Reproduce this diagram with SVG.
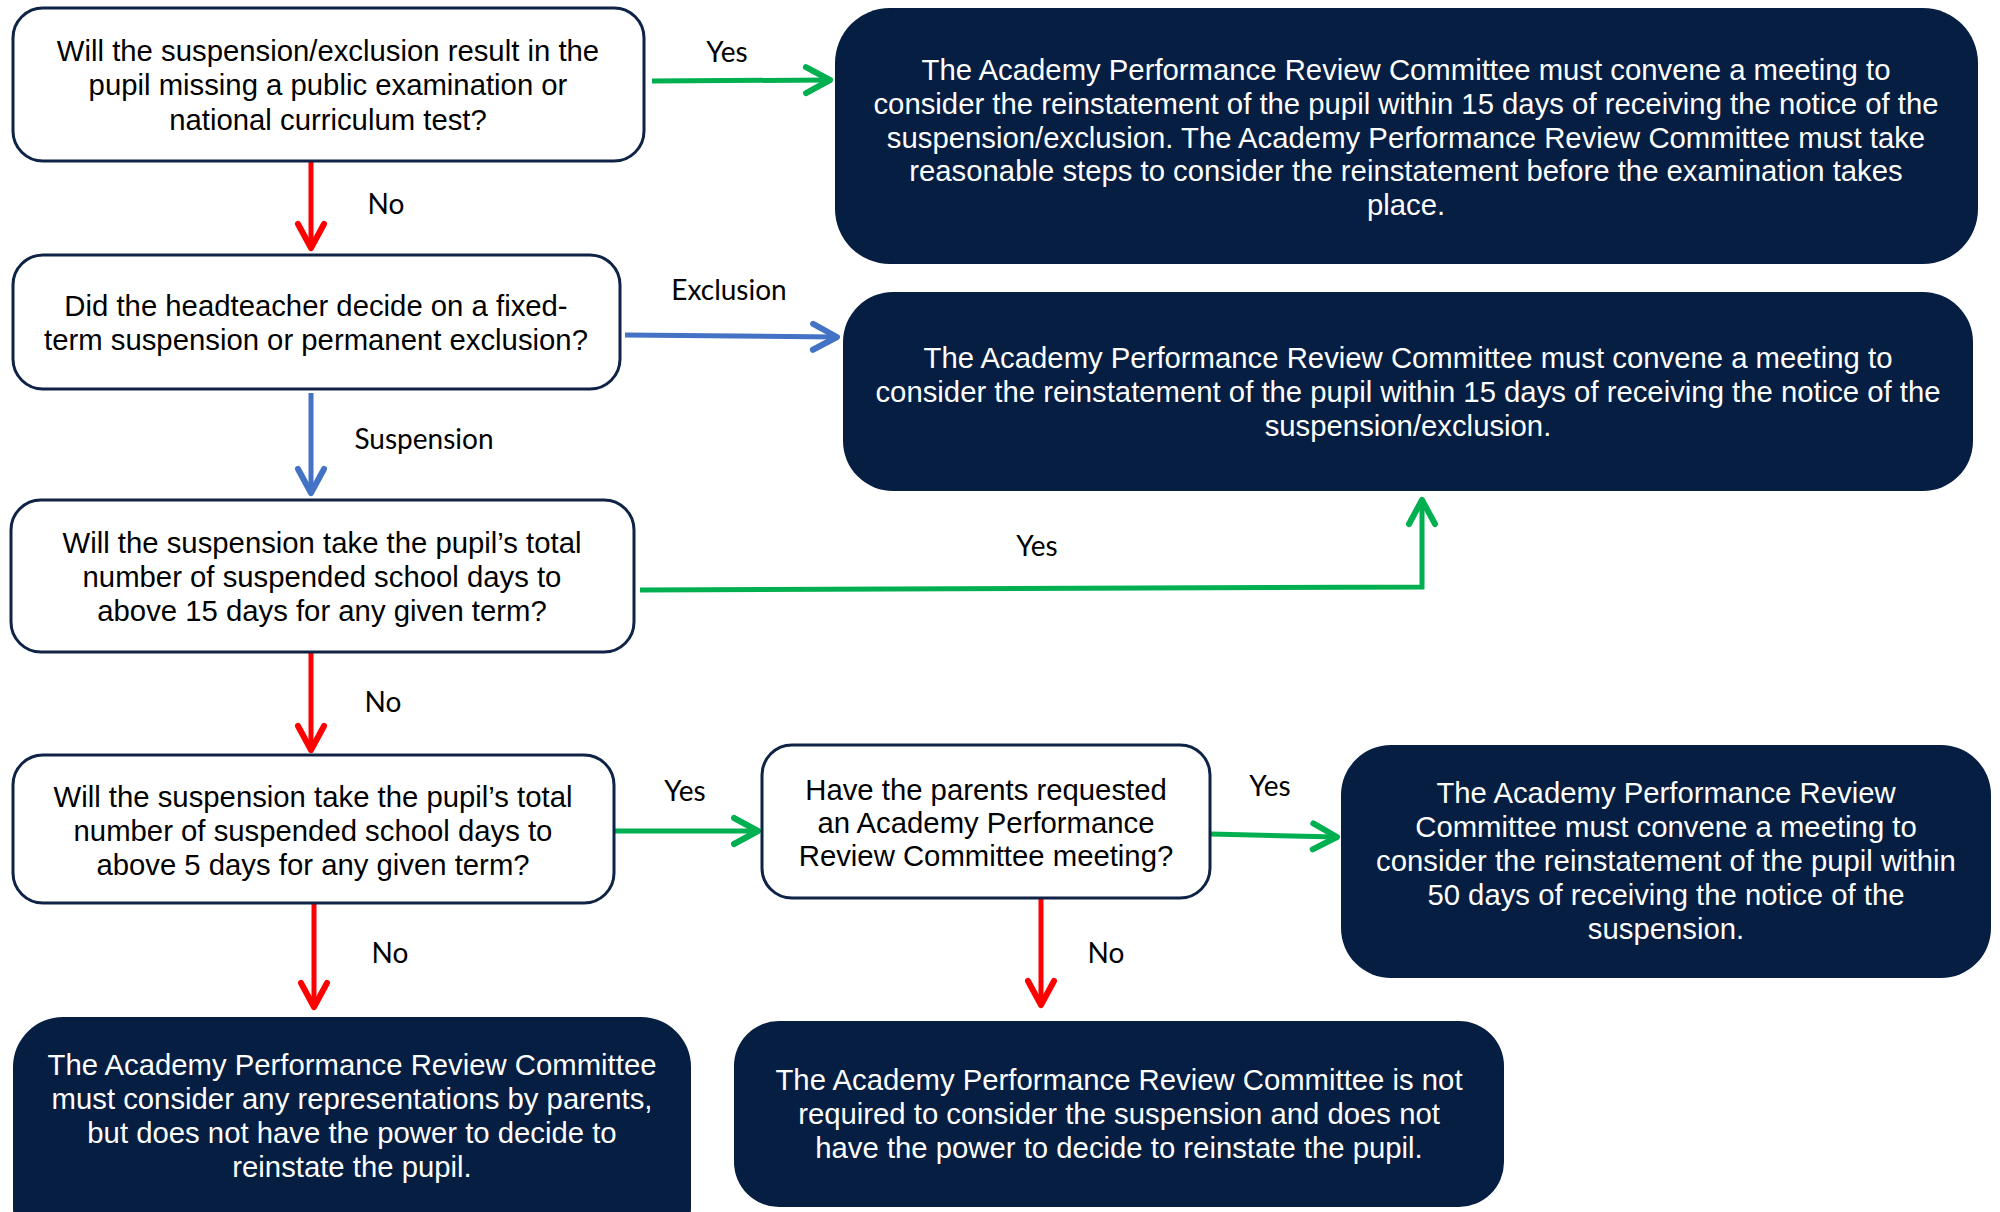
<svg xmlns="http://www.w3.org/2000/svg" width="2000" height="1212" viewBox="0 0 2000 1212">
<defs>
<style>
.q{fill:#fff;stroke:#0E2345;stroke-width:3}
.d{fill:#051E42;stroke:none}
.qt{font-family:"Liberation Sans",Arial,sans-serif;font-size:29.3px;fill:#000;text-anchor:middle}
.dt{font-family:"Liberation Sans",Arial,sans-serif;font-size:29.3px;fill:#fff;text-anchor:middle}
.lb{font-family:Lato,"Open Sans",sans-serif;font-size:28px;fill:#000;text-anchor:middle}
.g{stroke:#00B050;stroke-width:5;fill:none;marker-end:url(#mg)}
.r{stroke:#FF0000;stroke-width:5;fill:none;marker-end:url(#mr)}
.b{stroke:#4472C4;stroke-width:5;fill:none;marker-end:url(#mb)}
</style>
<marker id="mg" markerUnits="userSpaceOnUse" viewBox="-30 -18 34 36" refX="0" refY="0" markerWidth="34" markerHeight="36" orient="auto" overflow="visible"><path d="M-24-13L0 0L-24 13" fill="none" stroke="#00B050" stroke-width="6" stroke-linecap="round" stroke-linejoin="round"/></marker>
<marker id="mr" markerUnits="userSpaceOnUse" viewBox="-30 -18 34 36" refX="0" refY="0" markerWidth="34" markerHeight="36" orient="auto" overflow="visible"><path d="M-24-13L0 0L-24 13" fill="none" stroke="#FF0000" stroke-width="6" stroke-linecap="round" stroke-linejoin="round"/></marker>
<marker id="mb" markerUnits="userSpaceOnUse" viewBox="-30 -18 34 36" refX="0" refY="0" markerWidth="34" markerHeight="36" orient="auto" overflow="visible"><path d="M-24-13L0 0L-24 13" fill="none" stroke="#4472C4" stroke-width="6" stroke-linecap="round" stroke-linejoin="round"/></marker>
</defs>
<rect width="2000" height="1212" fill="#fff"/>

<g id="connectors">
<path class="g" d="M652 81L830 80"/>
<path class="r" d="M311 162L311 248"/>
<path class="b" d="M625 335L837 337"/>
<path class="b" d="M311 393L311 493"/>
<path class="g" d="M640 590L1422 587L1422 500"/>
<path class="r" d="M311 653L311 750"/>
<path class="g" d="M614 831L758 831"/>
<path class="g" d="M1210 834L1337 837"/>
<path class="r" d="M314 904L314 1007"/>
<path class="r" d="M1041 899L1041 1005"/>
<text class="lb" x="727" y="62">Yes</text>
<text class="lb" x="386" y="214">No</text>
<text class="lb" x="729" y="300">Exclusion</text>
<text class="lb" x="424" y="449">Suspension</text>
<text class="lb" x="1037" y="556">Yes</text>
<text class="lb" x="383" y="712">No</text>
<text class="lb" x="685" y="801">Yes</text>
<text class="lb" x="1270" y="796">Yes</text>
<text class="lb" x="390" y="963">No</text>
<text class="lb" x="1106" y="963">No</text>
</g>

<g id="q1">
<rect class="q" x="13" y="8" width="631" height="153" rx="30"/>
<text class="qt"><tspan x="328" y="61">Will the suspension/exclusion result in the</tspan><tspan x="328" y="95">pupil missing a public examination or</tspan><tspan x="328" y="130">national curriculum test?</tspan></text>
</g>

<g id="o1">
<rect class="d" x="835" y="8" width="1143" height="256" rx="55"/>
<text class="dt"><tspan x="1406" y="80">The Academy Performance Review Committee must convene a meeting to</tspan><tspan x="1406" y="114">consider the reinstatement of the pupil within 15 days of receiving the notice of the</tspan><tspan x="1406" y="148">suspension/exclusion. The Academy Performance Review Committee must take</tspan><tspan x="1406" y="181">reasonable steps to consider the reinstatement before the examination takes</tspan><tspan x="1406" y="215">place.</tspan></text>
</g>

<g id="q2">
<rect class="q" x="13" y="255" width="607" height="134" rx="30"/>
<text class="qt"><tspan x="316" y="316">Did the headteacher decide on a fixed-</tspan><tspan x="316" y="350">term suspension or permanent exclusion?</tspan></text>
</g>

<g id="o2">
<rect class="d" x="843" y="292" width="1130" height="199" rx="50"/>
<text class="dt"><tspan x="1408" y="368">The Academy Performance Review Committee must convene a meeting to</tspan><tspan x="1408" y="402">consider the reinstatement of the pupil within 15 days of receiving the notice of the</tspan><tspan x="1408" y="436">suspension/exclusion.</tspan></text>
</g>

<g id="q3">
<rect class="q" x="11" y="500" width="623" height="152" rx="30"/>
<text class="qt"><tspan x="322" y="553">Will the suspension take the pupil’s total</tspan><tspan x="322" y="587">number of suspended school days to</tspan><tspan x="322" y="621">above 15 days for any given term?</tspan></text>
</g>

<g id="q4">
<rect class="q" x="13" y="755" width="601" height="148" rx="30"/>
<text class="qt"><tspan x="313" y="807">Will the suspension take the pupil’s total</tspan><tspan x="313" y="841">number of suspended school days to</tspan><tspan x="313" y="875">above 5 days for any given term?</tspan></text>
</g>

<g id="q5">
<rect class="q" x="762" y="745" width="448" height="153" rx="30"/>
<text class="qt"><tspan x="986" y="800">Have the parents requested</tspan><tspan x="986" y="833">an Academy Performance</tspan><tspan x="986" y="866">Review Committee meeting?</tspan></text>
</g>

<g id="o3">
<rect class="d" x="1341" y="745" width="650" height="233" rx="50"/>
<text class="dt"><tspan x="1666" y="803">The Academy Performance Review</tspan><tspan x="1666" y="837">Committee must convene a meeting to</tspan><tspan x="1666" y="871">consider the reinstatement of the pupil within</tspan><tspan x="1666" y="905">50 days of receiving the notice of the</tspan><tspan x="1666" y="939">suspension.</tspan></text>
</g>

<g id="o4">
<rect class="d" x="13" y="1017" width="678" height="240" rx="50"/>
<text class="dt"><tspan x="352" y="1075">The Academy Performance Review Committee</tspan><tspan x="352" y="1109">must consider any representations by parents,</tspan><tspan x="352" y="1143">but does not have the power to decide to</tspan><tspan x="352" y="1177">reinstate the pupil.</tspan></text>
</g>

<g id="o5">
<rect class="d" x="734" y="1021" width="770" height="186" rx="45"/>
<text class="dt"><tspan x="1119" y="1090">The Academy Performance Review Committee is not</tspan><tspan x="1119" y="1124">required to consider the suspension and does not</tspan><tspan x="1119" y="1158">have the power to decide to reinstate the pupil.</tspan></text>
</g>
</svg>
